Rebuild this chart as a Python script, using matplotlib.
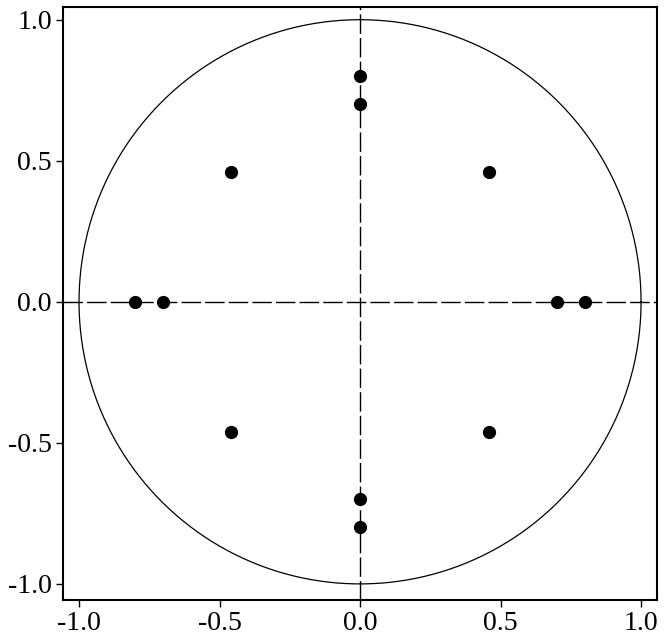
import numpy as np
import matplotlib
matplotlib.use("Agg")
from matplotlib import pyplot as plt

# roots (real, imag)
re = [0.8, 0.7, -0.8, -0.7, 0.0, 0.0, 0.0, 0.0, 0.46, 0.46, -0.46, -0.46]
im = [0.0, 0.0, 0.0, 0.0, 0.8, 0.7, -0.8, -0.7, 0.46, -0.46, 0.46, -0.46]
ticks = [-1.0, -0.5, 0.0, 0.5, 1.0]

plt.rcParams['font.family'] = ['Liberation Serif', 'DejaVu Serif']

fig = plt.figure(figsize=(6.66, 6.40), dpi=100)
ax = fig.add_axes([0.0946, 0.0625, 0.892, 0.927])

t = np.linspace(0, 2*np.pi, 400)
ax.plot(np.cos(t), np.sin(t), color='black', lw=0.9)
ax.axhline(0, color='black', lw=1.0, dashes=(14, 3))
ax.axvline(0, color='black', lw=1.0, dashes=(14, 3))
ax.plot(re, im, 'o', color='black', ms=8.5, zorder=5)

ax.set_xlim(-1.057, 1.057)
ax.set_ylim(-1.057, 1.046)
ax.set_xticks(ticks)
ax.set_yticks(ticks)
ax.set_xticklabels(['%.1f' % v for v in ticks])
ax.set_yticklabels(['%.1f' % v for v in ticks])
ax.tick_params(direction='out', length=5, width=1, labelsize=20, pad=3)
for s in ax.spines.values():
    s.set_linewidth(1.5)

fig.savefig('out.png', dpi=100)
